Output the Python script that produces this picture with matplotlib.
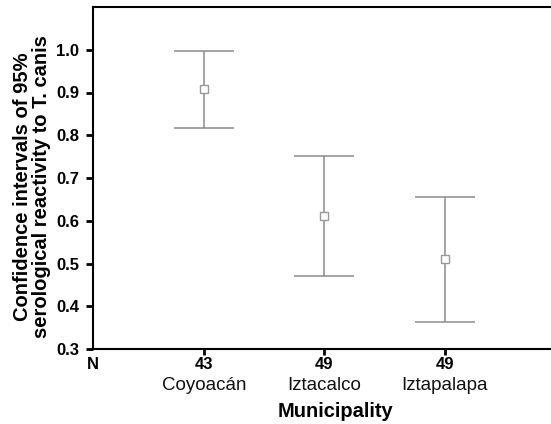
#!/usr/bin/env python3
"""95% confidence intervals of serological reactivity to T. canis, by municipality."""
import matplotlib
matplotlib.use("Agg")
import matplotlib.pyplot as plt

plt.rcParams["font.family"] = ["Liberation Sans", "DejaVu Sans"]

municipalities = ["Coyoacán", "Iztacalco", "Iztapalapa"]
n_sizes        = [43, 49, 49]
mean_vals      = [0.908, 0.611, 0.511]
lower_vals     = [0.817, 0.471, 0.363]
upper_vals     = [0.996, 0.752, 0.655]
y_ticks        = [0.3, 0.4, 0.5, 0.6, 0.7, 0.8, 0.9, 1.0]


def main() -> int:
    fig = plt.figure(figsize=(5.51, 4.24), dpi=100)
    ax = fig.add_axes([93 / 551, 1 - 349 / 424, (565 - 93) / 551, (349 - 7) / 424])

    x = [1, 2, 3]
    err_lo = [m - lo for m, lo in zip(mean_vals, lower_vals)]
    err_hi = [hi - m for m, hi in zip(mean_vals, upper_vals)]
    ax.errorbar(x, mean_vals, yerr=[err_lo, err_hi], fmt="none", ecolor="#8c8c8c",
                elinewidth=1.1, capsize=21.6, capthick=1.1)
    ax.plot(x, mean_vals, linestyle="none", marker="s", markersize=5.5,
            markerfacecolor="white", markeredgecolor="#999999", markeredgewidth=1.0)

    ax.set_xlim(0.075, 4.0)
    ax.set_ylim(0.3, 1.1)
    ax.set_yticks(y_ticks)
    ax.set_yticklabels([f"{v:.1f}" for v in y_ticks], fontsize=12, fontweight="bold")
    ax.set_xticks(x)
    ax.set_xticklabels([str(n) for n in n_sizes], fontsize=12, fontweight="bold")
    ax.tick_params(axis="y", length=5, width=2, color="black", pad=5)
    ax.tick_params(axis="x", length=4, width=2, color="black", pad=2)

    # municipality names under the N row (regular weight)
    for xi, name in zip(x, municipalities):
        ax.text(xi, -0.083, name, transform=ax.get_xaxis_transform(), ha="center",
                va="top", fontsize=13.5, color="#111111")
    ax.text(0.0, -0.022, "N", transform=ax.transAxes, ha="center", va="top",
            fontsize=12, fontweight="bold")

    for side in ("left", "bottom", "top"):
        ax.spines[side].set_linewidth(1.5)
    ax.spines["right"].set_visible(False)

    ax.set_ylabel("Confidence intervals of 95%\nserological reactivity to T. canis",
                  fontsize=14.5, fontweight="bold", linespacing=1.05)
    ax.yaxis.set_label_coords(-0.088, 0.475)
    ax.set_xlabel("Municipality", fontsize=14.5, fontweight="bold")
    ax.xaxis.set_label_coords(0.513, -0.155)

    fig.savefig("out.png", dpi=100)
    return 0


if __name__ == "__main__":
    raise SystemExit(main())
